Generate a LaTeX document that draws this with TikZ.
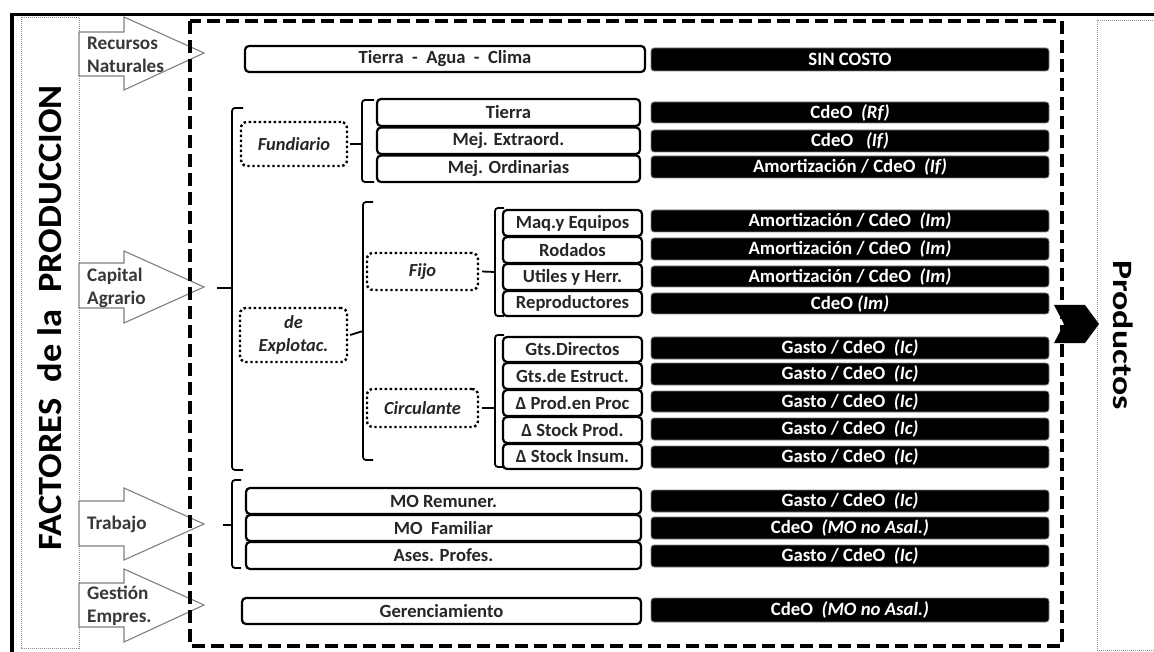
\documentclass[tikz,border=0pt]{standalone}
\usepackage{fontspec}
\setmainfont{Carlito}
\newcommand\mkbox[7]{\node[#1, minimum width=#5pt-#3pt, minimum height=#6pt-#4pt] (#2) at ({(#3+#5)/2},{(#4+#6)/2}) {#7};}
\begin{document}
\begin{tikzpicture}[x=1pt,y=-1pt,
  wbox/.style={draw=black, line width=2.2pt, rounded corners=4pt, fill=white, inner sep=0pt, font=\bfseries\fontsize{18.6}{20}\selectfont, text=black!85},
  bbox/.style={fill=black, draw=black!50, line width=0.8pt, rounded corners=3pt, inner sep=0pt, text=white, font=\bfseries\fontsize{18.8}{20}\selectfont},
  dotbox/.style={draw=black, line width=2.4pt, dash pattern=on 2.4pt off 2.6pt, rounded corners=6pt, inner sep=0pt, font=\bfseries\itshape\fontsize{18.4}{23}\selectfont, align=center, text=black!85},
  brace/.style={draw=black, line width=1.8pt, rounded corners=3pt},
  barrow/.style={draw=black!50, line width=1.1pt, fill=white},
  alabel/.style={font=\bfseries\fontsize{19.2}{23.5}\selectfont, text=black!78, align=left, anchor=west, inner sep=0pt},
  thindot/.style={draw=black!45, line width=0.8pt, dash pattern=on 1pt off 1pt},
]
\useasboundingbox (0,0) rectangle (1154,652);
\clip (0,0) rectangle (1154,652);
\fill[white] (0,0) rectangle (1154,652);
% outer frame
\draw[line width=3.5pt] (12,670) -- (12,14.5) -- (1170,14.5);
% side dotted panels
\draw[thindot] (21,17) rectangle (79,648);
\draw[thindot] (1097,20) rectangle (1170,650);
\node[rotate=90, inner sep=0pt] (fac) at (50,318) {\scalebox{1.07}[1]{\bfseries\fontsize{34}{34}\selectfont FACTORES\ \ de la\ \ PRODUCCION}};
\node[rotate=-90, inner sep=0pt] (prod) at (1123,335) {\scalebox{1.28}[1]{\bfseries\fontsize{28}{28}\selectfont Productos}};
% block arrows
\draw[barrow] (79,32) -- (124,32) -- (124,17) -- (204,53) -- (124,90) -- (124,76) -- (79,76) -- cycle;
\draw[barrow] (79,263) -- (124,263) -- (124,251) -- (204,287) -- (124,323) -- (124,308) -- (79,308) -- cycle;
\draw[barrow] (79,501) -- (124,501) -- (124,488) -- (204,524) -- (124,560) -- (124,546) -- (79,546) -- cycle;
\draw[barrow] (79,583) -- (124,583) -- (124,569) -- (204,605) -- (124,642) -- (124,627) -- (79,627) -- cycle;
\node[alabel] (lrn) at (87,55) {Recursos\\Naturales};
\node[alabel] (lca) at (87,288) {Capital\\Agrario};
\node[alabel] (ltr) at (87,524) {Trabajo};
\node[alabel] (lge) at (87,606) {Gestión\\Empres.};
% dashed frame
\draw[line width=3.5pt, dash pattern=on 13pt off 6pt] (190,21) rectangle (1062,646);
% dotted group boxes
\mkbox{dotbox}{fund}{241}{122}{347}{166}{Fundiario}
\mkbox{dotbox}{expl}{240}{308}{347}{362}{de\\Explotac.}
\mkbox{dotbox}{fijo}{367}{253}{478}{290}{Fijo}
\mkbox{dotbox}{circ}{367}{389}{478}{427}{Circulante}
% braces
\draw[brace] (243,108) -- (232,108) -- (232,470) -- (243,470);
\draw[brace] (217,288) -- (232,288);
\draw[brace] (374,100) -- (362,100) -- (362,182) -- (374,182);
\draw[brace] (fund.east) ++(2,0) -- (362,144);
\draw[brace] (373,202) -- (363,202) -- (363,460) -- (373,460);
\draw[brace] (expl.east) ++(2,0) -- (363,331);
\draw[brace] (504,208) -- (495,208) -- (495,316) -- (504,316);
\draw[brace] (fijo.east) ++(3,0) -- (495,272);
\draw[brace] (504,335) -- (495,335) -- (495,467) -- (504,467);
\draw[brace] (circ.east) ++(3,0) -- (495,408);
\draw[brace] (241,480) -- (232,480) -- (232,568) -- (241,568);
\draw[brace] (223,525) -- (232,525);
% white boxes
\mkbox{wbox}{tac}{245}{46}{645}{72}{Tierra\ \ -\ \ Agua\ \ -\ \ Clima}
\mkbox{wbox}{tierra}{377}{99}{640}{126}{Tierra}
\mkbox{wbox}{mejex}{377}{127.5}{640}{154}{Mej. Extraord.}
\mkbox{wbox}{mejor}{377}{155.5}{640}{182}{Mej. Ordinarias}
\mkbox{wbox}{maq}{503}{210}{642}{236}{Maq.y Equipos}
\mkbox{wbox}{rod}{503}{237}{642}{263}{Rodados}
\mkbox{wbox}{util}{503}{264}{642}{290}{Utiles y Herr.}
\mkbox{wbox}{repr}{503}{291}{642}{316}{Reproductores}
\mkbox{wbox}{gtsd}{503}{337}{642}{362}{Gts.Directos}
\mkbox{wbox}{gtse}{503}{363}{642}{389}{Gts.de Estruct.}
\mkbox{wbox}{dprod}{503}{390}{642}{416}{Δ Prod.en Proc}
\mkbox{wbox}{dstp}{503}{417}{642}{443}{Δ Stock Prod.}
\mkbox{wbox}{dsti}{503}{444}{642}{469}{Δ Stock Insum.}
\mkbox{wbox}{mor}{246}{488}{641}{514}{MO Remuner.}
\mkbox{wbox}{mof}{246}{515}{641}{541}{MO\ \ Familiar}
\mkbox{wbox}{ases}{246}{542}{641}{569}{Ases. Profes.}
\mkbox{wbox}{ger}{242}{598}{641}{624}{Gerenciamiento}
% black boxes
\mkbox{bbox}{sc}{651}{48}{1049}{71}{SIN COSTO}
\mkbox{bbox}{rf}{651}{102}{1049}{123}{CdeO\ \ \textit{(Rf)}}
\mkbox{bbox}{ifa}{651}{130}{1049}{152}{CdeO\ \ \ \textit{(If)}}
\mkbox{bbox}{ifb}{651}{156}{1049}{178}{Amortización / CdeO\ \ \textit{(If)}}
\mkbox{bbox}{ima}{651}{210}{1049}{232}{Amortización / CdeO\ \ \textit{(Im)}}
\mkbox{bbox}{imb}{651}{238}{1049}{260}{Amortización / CdeO\ \ \textit{(Im)}}
\mkbox{bbox}{imc}{651}{266}{1049}{287}{Amortización / CdeO\ \ \textit{(Im)}}
\mkbox{bbox}{imd}{651}{293}{1049}{314}{CdeO \textit{(Im)}}
\mkbox{bbox}{ica}{651}{337}{1049}{359}{Gasto / CdeO\ \ \textit{(Ic)}}
\mkbox{bbox}{icb}{651}{363}{1049}{385}{Gasto / CdeO\ \ \textit{(Ic)}}
\mkbox{bbox}{icc}{651}{391}{1049}{412}{Gasto / CdeO\ \ \textit{(Ic)}}
\mkbox{bbox}{icd}{651}{418}{1049}{440}{Gasto / CdeO\ \ \textit{(Ic)}}
\mkbox{bbox}{ice}{651}{446}{1049}{468}{Gasto / CdeO\ \ \textit{(Ic)}}
\mkbox{bbox}{tra}{651}{490}{1049}{512}{Gasto / CdeO\ \ \textit{(Ic)}}
\mkbox{bbox}{trb}{651}{517}{1049}{539}{CdeO\ \ \textit{(MO no Asal.)}}
\mkbox{bbox}{trc}{651}{545}{1049}{567}{Gasto / CdeO\ \ \textit{(Ic)}}
\mkbox{bbox}{gest}{651}{598}{1049}{622}{CdeO\ \ \textit{(MO no Asal.)}}
% products chevron
\fill[black] (1054,305) -- (1085,305) -- (1099,324) -- (1085,343) -- (1054,343) -- (1064,324) -- cycle;
\end{tikzpicture}
\end{document}
